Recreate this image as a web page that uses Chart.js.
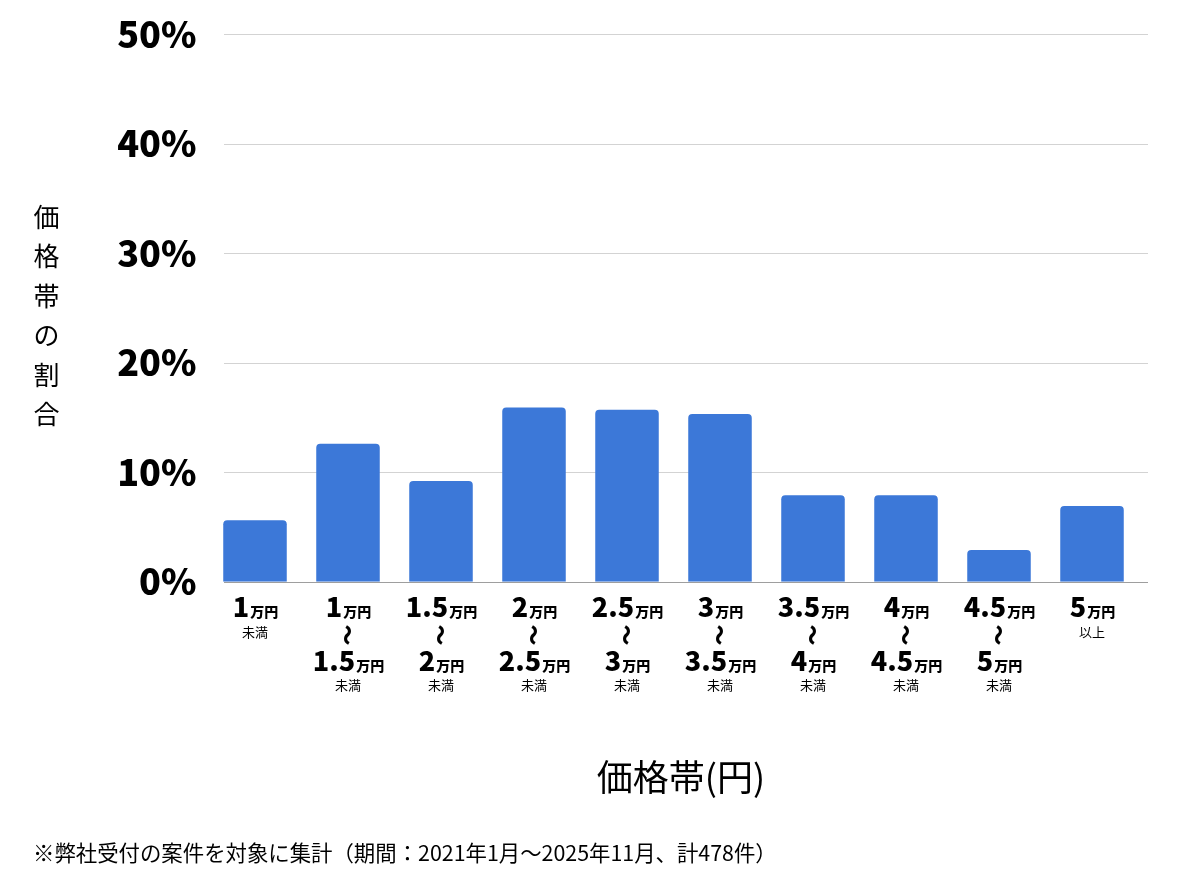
<!DOCTYPE html>
<html lang="ja">
<head>
<meta charset="utf-8">
<script src="https://cdn.jsdelivr.net/npm/chart.js@4.4.1/dist/chart.umd.min.js"></script>
<style>
  html, body { margin: 0; padding: 0; background: #fff; }
  body { width: 1200px; height: 874px; position: relative; overflow: hidden;
         font-family: "Noto Sans CJK JP", "Noto Sans", sans-serif; color: #000; }
  #wrap { position: absolute; left: 0; top: 0; width: 1200px; height: 874px; }
  .ytitle { position: absolute; left: 30px; top: 196px; width: 33px; text-align: center;
            font-size: 26px; line-height: 39.4px; }
  .xtitle { position: absolute; left: 481px; top: 750px; width: 400px; text-align: center;
            font-size: 36px; line-height: 50px; }
  .note { position: absolute; left: 33px; top: 837px; font-size: 21.4px; line-height: 30px; white-space: nowrap; }
</style>
</head>
<body>
<div id="wrap"><canvas id="chart" width="1200" height="874"></canvas></div>
<div class="ytitle">価<br>格<br>帯<br>の<br>割<br>合</div>
<div class="xtitle">価格帯(円)</div>
<div class="note">※弊社受付の案件を対象に集計（期間：2021年1月〜2025年11月、計478件）</div>
<script>
// 価格帯（下限・上限）と割合(%)
const lowPrices  = ["1", "1", "1.5", "2", "2.5", "3", "3.5", "4", "4.5", "5"];
const highPrices = [null, "1.5", "2", "2.5", "3", "3.5", "4", "4.5", "5", null];
const notes      = ["未満", "未満", "未満", "未満", "未満", "未満", "未満", "未満", "未満", "以上"];
const shares     = [5.6, 12.6, 9.2, 15.9, 15.7, 15.3, 7.9, 7.9, 2.9, 6.9];
const yTicks     = [0, 10, 20, 30, 40, 50];

const categories = lowPrices.map((lo, i) =>
  highPrices[i] ? lo + "万円〜" + highPrices[i] + "万円未満" : lo + "万円" + notes[i]);

const FONT = '"Noto Sans CJK JP", "Noto Sans", sans-serif';

// 横グリッド線（y軸の目盛りから）
const gridPlugin = {
  id: "grid",
  beforeDatasetsDraw(chart) {
    const { ctx, scales: { y } } = chart;
    ctx.save();
    ctx.lineWidth = 1;
    ctx.strokeStyle = "#d3d3d3";
    y.ticks.forEach(t => {
      if (t.value === 0) return;
      const py = Math.round(y.getPixelForValue(t.value)) + 0.5;
      ctx.beginPath();
      ctx.moveTo(224, py);
      ctx.lineTo(1148, py);
      ctx.stroke();
    });
    ctx.restore();
  },
  afterDatasetsDraw(chart) {
    const { ctx, scales: { y } } = chart;
    const py = Math.round(y.getPixelForValue(0)) + 0.5;
    ctx.save();
    ctx.strokeStyle = "#9e9e9e";
    ctx.lineWidth = 1;
    ctx.beginPath();
    ctx.moveTo(224, py);
    ctx.lineTo(1148, py);
    ctx.stroke();
    ctx.restore();
  }
};

// x軸ラベル（数字は大きく、万円は小さく）
function drawPrice(ctx, num, cx, baseY) {
  ctx.font = "900 27px " + FONT;
  const w1 = ctx.measureText(num).width;
  ctx.font = "900 14px " + FONT;
  const w2 = ctx.measureText("万円").width;
  const start = cx - (w1 + w2) / 2;
  ctx.textAlign = "left";
  ctx.font = "900 27px " + FONT;
  ctx.fillText(num, start, baseY);
  ctx.font = "900 14px " + FONT;
  ctx.fillText("万円", start + w1 + 1, baseY);
}

const xLabelPlugin = {
  id: "xlabels",
  afterDraw(chart) {
    const { ctx, scales: { x } } = chart;
    ctx.save();
    ctx.fillStyle = "#000";
    ctx.textBaseline = "alphabetic";
    categories.forEach((c, i) => {
      const cx = x.getPixelForValue(i);
      drawPrice(ctx, lowPrices[i], cx, 617);
      ctx.font = "13px " + FONT;
      ctx.textAlign = "center";
      if (highPrices[i]) {
        ctx.save();
        ctx.translate(cx, 635);
        ctx.rotate(Math.PI / 2);
        ctx.font = "900 21px " + FONT;
        ctx.textBaseline = "middle";
        ctx.fillText("〜", 0, 0);
        ctx.restore();
        drawPrice(ctx, highPrices[i], cx, 671);
        ctx.font = "13px " + FONT;
        ctx.textAlign = "center";
        ctx.fillText(notes[i], cx, 690);
      } else {
        ctx.fillText(notes[i], cx, 637);
      }
    });
    ctx.restore();
  }
};

new Chart(document.getElementById("chart"), {
  type: "bar",
  data: {
    labels: categories,
    datasets: [{
      label: "価格帯の割合",
      data: shares,
      backgroundColor: "#3c78d8",
      borderRadius: 4,
      categoryPercentage: 1,
      barPercentage: 0.683
    }]
  },
  options: {
    responsive: false,
    animation: false,
    devicePixelRatio: 1,
    layout: { padding: { top: 34, right: 61.5, bottom: 292.3, left: 0 } },
    plugins: { legend: { display: false }, tooltip: { enabled: false } },
    scales: {
      x: { display: false },
      y: {
        min: 0,
        max: 50,
        afterFit(scale) { scale.width = 208.5; },
        afterBuildTicks(scale) { scale.ticks = yTicks.map(v => ({ value: v })); },
        grid: { display: false },
        border: { display: false },
        ticks: {
          padding: 4,
          color: "#000",
          font: { family: FONT, size: 36, weight: "900" },
          callback: v => v + "%"
        }
      }
    }
  },
  plugins: [gridPlugin, xLabelPlugin]
});
</script>
</body>
</html>
